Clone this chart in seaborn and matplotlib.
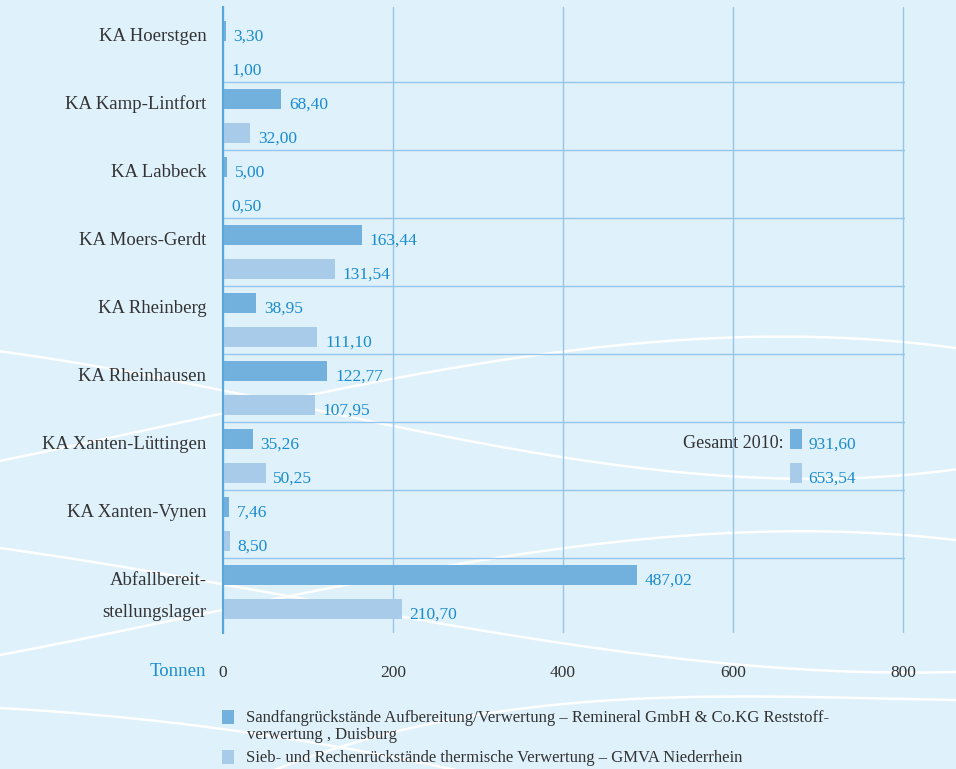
import numpy as np
import pandas as pd
import matplotlib.pyplot as plt
from matplotlib.patches import Patch, Rectangle
import seaborn as sns

# data
anlagen = ['KA Hoerstgen', 'KA Kamp-Lintfort', 'KA Labbeck', 'KA Moers-Gerdt',
           'KA Rheinberg', 'KA Rheinhausen', 'KA Xanten-Lüttingen',
           'KA Xanten-Vynen', 'Abfallbereit-']
sandfang = [3.30, 68.40, 5.00, 163.44, 38.95, 122.77, 35.26, 7.46, 487.02]
sieb_rechen = [1.00, 32.00, 0.50, 131.54, 111.10, 107.95, 50.25, 8.50, 210.70]
gesamt_2010 = [931.60, 653.54]
serien = ['Sandfangrückstände Aufbereitung/Verwertung – Remineral GmbH & Co.KG Reststoff-',
          'Sieb- und Rechenrückstände thermische Verwertung – GMVA Niederrhein']
serie1_zeile2 = 'verwertung , Duisburg'
x_ticks = [0, 200, 400, 600, 800]

BG = '#dff1fb'
DARK = '#72b1dd'
LIGHT = '#a8cbea'
GRID = '#95c5e8'
BLUE_TXT = '#1a8ccf'
GRAY_TXT = '#333333'

def fmt(v):
    return f'{v:.2f}'.replace('.', ',')

df = pd.DataFrame({
    'anlage': anlagen * 2,
    'tonnen': sandfang + sieb_rechen,
    'serie': [serien[0]] * len(anlagen) + [serien[1]] * len(anlagen),
})

sns.set_style('white')
plt.rcParams['font.family'] = ['Liberation Serif', 'DejaVu Serif']

fig = plt.figure(figsize=(9.56, 7.69), dpi=100, facecolor=BG)

# decorative white waves in the background (pixel coords of the picture)
bg = fig.add_axes([0, 0, 1, 1], zorder=0)
bg.set_xlim(0, 956)
bg.set_ylim(769, 0)
bg.axis('off')
waves = [
    [(0, 352), (207, 385), (450, 440), (760, 476), (956, 470)],
    [(0, 460), (220, 417), (488, 358), (762, 340), (956, 347)],
    [(0, 548), (293, 597), (610, 650), (956, 672)],
    [(0, 655), (305, 593), (549, 550), (732, 533), (956, 540)],
    [(0, 708), (244, 732), (500, 780)],
    [(250, 780), (450, 720), (610, 700), (793, 697), (956, 700)],
]
for pts in waves:
    px, py = np.array(pts, dtype=float).T
    coef = np.polyfit(px, py, min(3, len(px) - 1))
    xs = np.linspace(px.min(), px.max(), 200)
    bg.plot(xs, np.polyval(coef, xs), color='white', lw=1.8)

# axes slightly wider than the 0..800 range so the 800 grid line is not clipped
ax = fig.add_axes([223 / 956, 1 - 633 / 769, 682 / 956, 626 / 769], zorder=1)
ax.set_facecolor('none')

sns.barplot(data=df, x='tonnen', y='anlage', hue='serie', orient='h',
            palette=[DARK, LIGHT], width=1.0, gap=0.44, saturation=1,
            errorbar=None, linewidth=0, ax=ax, zorder=3)

ax.set_xlim(0, 800 * 682 / 680)
n = len(anlagen)
ax.set_ylim(n - 0.5 + 0.103, -0.5 - 0.103)

# value labels
for i in range(n):
    ax.text(sandfang[i] + 9, i - 0.25 + 0.08, fmt(sandfang[i]), color=BLUE_TXT,
            fontsize=12.5, va='center', ha='left', zorder=4)
    ax.text(sieb_rechen[i] + 9, i + 0.25 + 0.08, fmt(sieb_rechen[i]), color=BLUE_TXT,
            fontsize=12.5, va='center', ha='left', zorder=4)

# category labels at the first bar of each group
ax.set_yticks(np.arange(n) - 0.25 + 0.05)
ax.set_yticklabels(anlagen, fontsize=13.5, color=GRAY_TXT)
ax.text(-20, n - 1 + 0.25 + 0.05, 'stellungslager', fontsize=13.5, color=GRAY_TXT,
        ha='right', va='center')
ax.tick_params(axis='y', length=0, pad=12)

ax.set_xticks(x_ticks)
ax.set_xticklabels([str(v) for v in x_ticks], fontsize=12.5, color=GRAY_TXT)
ax.tick_params(axis='x', length=0, pad=23)
ax.text(-20, -0.062, 'Tonnen', transform=ax.get_xaxis_transform(), fontsize=13.5,
        color=BLUE_TXT, ha='right', va='center')

# grid
ax.set_yticks(np.arange(n - 1) + 0.5, minor=True)
ax.tick_params(axis='y', which='minor', length=0)
ax.grid(axis='y', which='minor', color=GRID, lw=1.0, zorder=1)
ax.grid(axis='x', which='major', color=GRID, lw=1.0, zorder=1)
ax.grid(axis='y', which='major', visible=False)
for s in ['top', 'right', 'bottom']:
    ax.spines[s].set_visible(False)
ax.spines['left'].set_color('#5aa7dc')
ax.spines['left'].set_linewidth(1.5)
ax.spines['left'].set_zorder(5)
ax.set_xlabel('')
ax.set_ylabel('')

# Gesamt 2010 annotation
row = anlagen.index('KA Xanten-Lüttingen')
ax.text(659, row - 0.25 + 0.06, 'Gesamt 2010:', fontsize=13, color=GRAY_TXT,
        ha='right', va='center', zorder=4)
for k, (val, col) in enumerate(zip(gesamt_2010, [DARK, LIGHT])):
    yc = row - 0.25 + 0.5 * k
    ax.add_patch(Rectangle((667, yc - 0.14), 14, 0.28, color=col, lw=0, zorder=4))
    ax.text(689, yc + 0.08, fmt(val), color=BLUE_TXT, fontsize=12.5,
            va='center', ha='left', zorder=4)

# legend
ax.legend_.remove()
handles = [Patch(color=DARK, lw=0), Patch(color=LIGHT, lw=0)]
leg = fig.legend(handles, serien, loc='upper left', bbox_to_anchor=(215 / 956, 1 - 703 / 769),
                 frameon=False, fontsize=12, handlelength=0.75, handleheight=0.9,
                 handletextpad=0.7, labelspacing=1.4, labelcolor=GRAY_TXT,
                 borderaxespad=0)
fig.text(247 / 956, 1 - 735 / 769, serie1_zeile2, fontsize=12, color=GRAY_TXT,
         ha='left', va='center')

fig.savefig('out.png', dpi=100, facecolor=BG)
